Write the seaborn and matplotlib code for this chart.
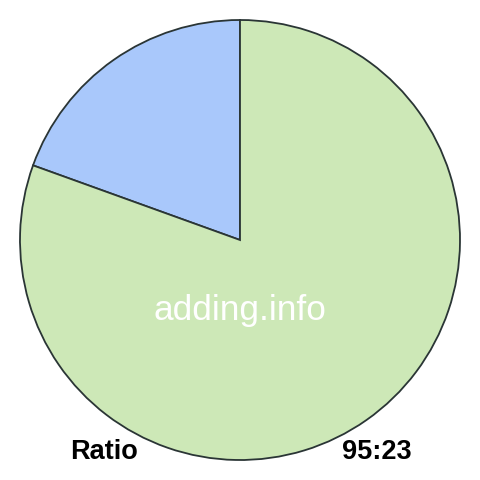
import matplotlib
matplotlib.use('Agg')
import matplotlib.pyplot as plt
import seaborn as sns

labels = ['23', '95']
values = [23, 95]
colors = ['#a9c8fb', '#cde8b7']
title_left = 'Ratio'
title_right = '95:23'
watermark = 'adding.info'

sns.set_style('white')
plt.rcParams['font.family'] = ['Liberation Sans', 'DejaVu Sans']

fig = plt.figure(figsize=(4.8, 4.8), dpi=100)
ax = fig.add_axes([0, 0, 1, 1])
pal = sns.color_palette(colors)
ax.pie(values, colors=pal, startangle=90, counterclock=True, radius=1,
       wedgeprops=dict(edgecolor='#2a3535', linewidth=1.3))
r = 240 / 220
ax.set_xlim(-r, r)
ax.set_ylim(-r, r)
ax.set_aspect('equal')
ax.axis('off')

ax.text(0, -0.32, watermark, color='white', fontsize=25.4, ha='center', va='center')
fig.text(70 / 480, 1 - 452 / 480, title_left, color='black', fontsize=19.5,
         fontweight='bold', ha='left', va='center')
fig.text(412 / 480, 1 - 452 / 480, title_right, color='black', fontsize=19.5,
         fontweight='bold', ha='right', va='center')

fig.savefig('out.png', dpi=100)
